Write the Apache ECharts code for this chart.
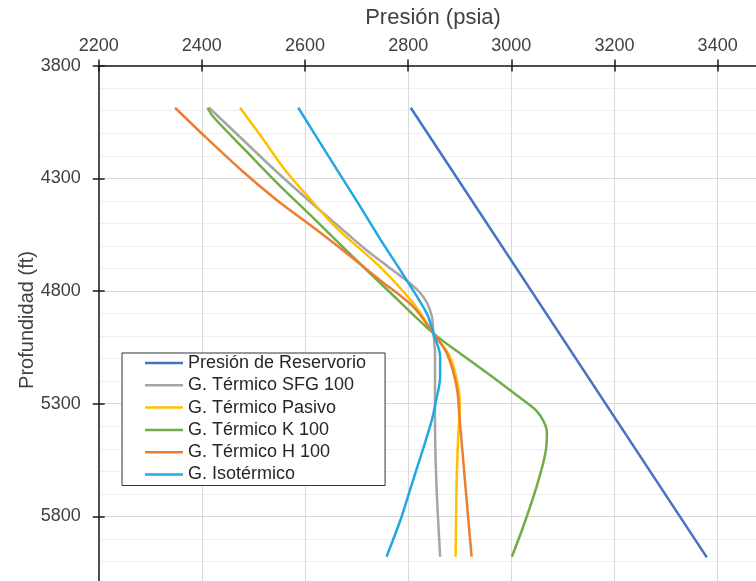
<!DOCTYPE html>
<html><head><meta charset="utf-8">
<script src="https://cdn.jsdelivr.net/npm/echarts@6/dist/echarts.min.js"></script>
<style>html,body{margin:0;padding:0;background:#fff}#c{width:756px;height:581px}</style>
</head><body><div id="c"></div>
<script>
// ---- data (pressure in psia, depth in ft) ----
const seriesNames = ['Presión de Reservorio', 'G. Térmico SFG 100', 'G. Térmico Pasivo', 'G. Térmico K 100', 'G. Térmico H 100', 'G. Isotérmico'];

const reservorioDepth = [3987, 5982];
const reservorioP     = [2805, 3379];

const sfgDepth = [3987, 4130, 4271, 4404, 4544, 4620, 4690, 4750, 4800, 4850, 4914, 4988, 5075, 5372, 5668, 5979];
const sfgP     = [2414, 2480, 2545, 2610, 2681, 2720, 2760, 2795, 2820, 2836, 2846, 2849, 2852, 2852, 2855, 2862];

const pasivoDepth = [3987, 4108, 4271, 4387, 4520, 4692, 4855, 4988, 5091, 5225, 5313, 5446, 5638, 5979];
const pasivoP     = [2474, 2513, 2564, 2608, 2661, 2745, 2810, 2849, 2881, 2897, 2900, 2897, 2894, 2892];

const k100Depth = [3987, 4027, 4182, 4330, 4476, 4620, 4800, 4988, 5091, 5180, 5284, 5330, 5380, 5430, 5520, 5668, 5846, 5979];
const k100P     = [2411, 2422, 2487, 2550, 2616, 2680, 2762, 2849, 2909, 2963, 3023, 3048, 3063, 3069, 3066, 3049, 3023, 3001];

const h100Depth = [3987, 4108, 4271, 4396, 4507, 4609, 4751, 4870, 4988, 5076, 5225, 5372, 5639, 5979];
const h100P     = [2348, 2403, 2480, 2545, 2610, 2668, 2745, 2810, 2849, 2875, 2894, 2900, 2910, 2923];

const isoDepth = [3987, 4182, 4396, 4574, 4737, 4899, 4988, 5091, 5180, 5298, 5372, 5500, 5650, 5816, 5979];
const isoP     = [2587, 2640, 2699, 2747, 2793, 2836, 2849, 2862, 2862, 2853, 2846, 2829, 2808, 2785, 2758];

const xTicks = {min: 2200, max: 3600, interval: 200};
const yTicks = {min: 3800, max: 6300, interval: 500};

const colors = ['#4472C4', '#A5A5A5', '#FFC000', '#70AD47', '#ED7D31', '#22A8E0'];
// -----------------------------------------------

const depths = [reservorioDepth, sfgDepth, pasivoDepth, k100Depth, h100Depth, isoDepth];
const press  = [reservorioP, sfgP, pasivoP, k100P, h100P, isoP];

const FONT = "'Liberation Sans', Arial, sans-serif";
const AX = '#1a1a1a';
const gridGeom = {left: 98.7, top: 65.6, right: -64.8, bottom: -48.1, containLabel: false, outerBoundsMode: 'none'};
const plain = v => String(v);

const series = seriesNames.map((n, i) => ({
  name: n,
  type: 'line',
  xAxisIndex: 0, yAxisIndex: 0,
  data: depths[i].map((d, j) => [press[i][j], d]),
  smooth: i === 0 ? false : 0.3,
  showSymbol: false,
  symbol: 'none',
  lineStyle: {width: 2.5, color: colors[i]},
  itemStyle: {color: colors[i]},
  z: 3
}));

const chart = echarts.init(document.getElementById('c'), null, {renderer: 'canvas'});
chart.setOption({
  animation: false,
  backgroundColor: '#ffffff',
  grid: [Object.assign({}, gridGeom), Object.assign({}, gridGeom)],
  xAxis: [{
    type: 'value', gridIndex: 0, position: 'top',
    min: xTicks.min, max: xTicks.max, interval: xTicks.interval,
    axisLine: {show: true, onZero: false, lineStyle: {color: AX, width: 1.5}},
    axisTick: {show: true, inside: false, length: 6, lineStyle: {color: AX, width: 1.5}},
    axisLabel: {fontSize: 18, color: '#404040', margin: 11, fontFamily: FONT, formatter: plain},
    splitLine: {show: true, lineStyle: {color: '#d9d9d9', width: 1}},
    name: 'Presión (psia)', nameLocation: 'middle', nameGap: 37, nameMoveOverlap: false,
    nameTextStyle: {fontSize: 22, color: '#404040', fontFamily: FONT, padding: [0, 53.5, 0, 0]}
  }, {
    type: 'value', gridIndex: 1, position: 'top',
    min: xTicks.min, max: xTicks.max, interval: xTicks.interval,
    axisLine: {show: false, onZero: false},
    axisTick: {show: true, inside: true, length: 6, lineStyle: {color: AX, width: 1.5}},
    axisLabel: {show: false}, splitLine: {show: false}
  }],
  yAxis: [{
    type: 'value', gridIndex: 0, inverse: true,
    min: yTicks.min, max: yTicks.max, interval: yTicks.interval,
    axisLine: {show: true, onZero: false, lineStyle: {color: AX, width: 1.5}},
    axisTick: {show: true, inside: false, length: 6, lineStyle: {color: AX, width: 1.5}},
    axisLabel: {fontSize: 18, color: '#404040', margin: 18, fontFamily: FONT, showMaxLabel: false, formatter: plain},
    splitLine: {show: true, lineStyle: {color: '#d9d9d9', width: 1}},
    minorTick: {show: false, splitNumber: 5},
    minorSplitLine: {show: true, lineStyle: {color: '#eeeeee', width: 1}},
    name: 'Profundidad (ft)', nameLocation: 'middle', nameGap: 61, nameMoveOverlap: false,
    nameTextStyle: {fontSize: 20, color: '#404040', fontFamily: FONT, padding: [0, 0, 0, 54.7]}
  }, {
    type: 'value', gridIndex: 1, inverse: true,
    min: yTicks.min, max: yTicks.max, interval: yTicks.interval,
    axisLine: {show: false, onZero: false},
    axisTick: {show: true, inside: true, length: 6, lineStyle: {color: AX, width: 1.5}},
    axisLabel: {show: false}, splitLine: {show: false}
  }],
  legend: {
    orient: 'vertical', left: 122, top: 353,
    padding: [1, 19, 2, 23],
    itemWidth: 38, itemHeight: 2.5, itemGap: 4.3, icon: 'rect',
    textStyle: {fontSize: 18, lineHeight: 18, color: '#262626', fontFamily: FONT},
    borderColor: '#333', borderWidth: 1, backgroundColor: '#ffffff',
    data: seriesNames
  },
  series: series
});
</script>
</body></html>
